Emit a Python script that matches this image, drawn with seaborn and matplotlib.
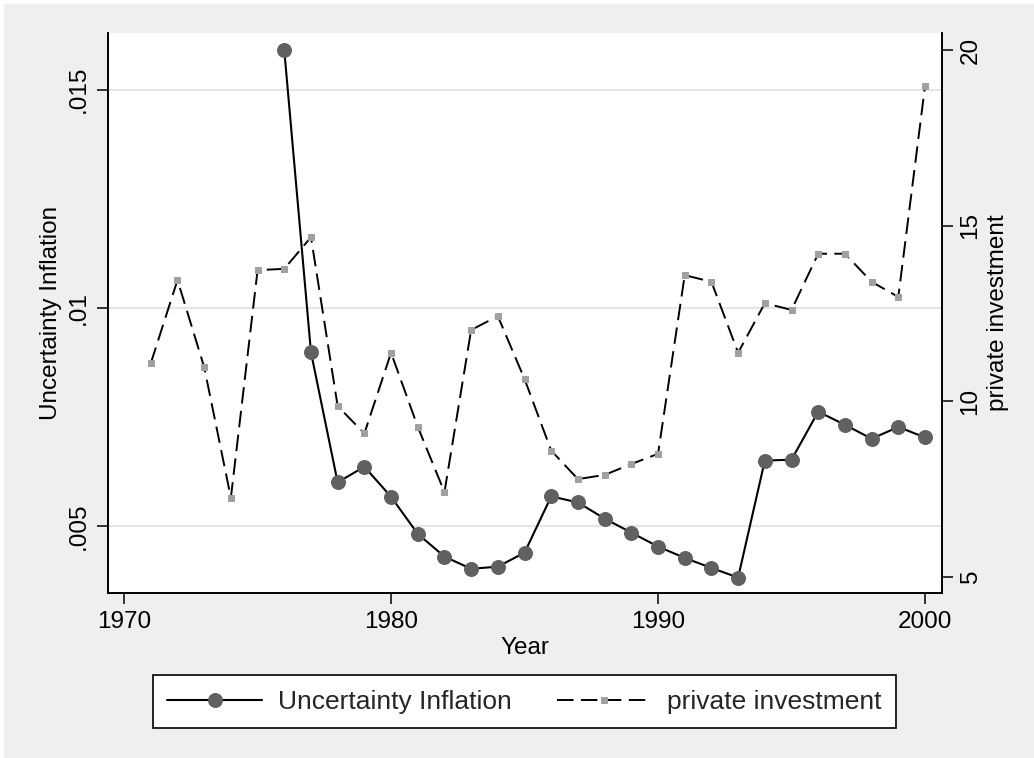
import numpy as np
import pandas as pd
import matplotlib
matplotlib.use("Agg")
import matplotlib.pyplot as plt
import seaborn as sns
from matplotlib.patches import Rectangle

# data
inv_years = list(range(1971, 2001))
investment = [11.08, 13.45, 10.97, 7.25, 13.73, 13.77, 14.67, 9.86, 9.08, 11.38,
              9.27, 7.41, 12.03, 12.42, 10.63, 8.59, 7.78, 7.90, 8.21, 8.50,
              13.59, 13.40, 11.38, 12.79, 12.60, 14.20, 14.20, 13.40, 12.97, 18.97]
unc_years = list(range(1976, 2001))
uncertainty = [.0159, .00898, .00600, .00636, .00567, .00482, .00430, .00402, .00407,
               .00439, .00568, .00554, .00517, .00485, .00453, .00427, .00404, .00382,
               .00650, .00652, .00762, .00732, .00700, .00727, .00703]

x_ticks = [1970, 1980, 1990, 2000]
left_ticks = [.005, .01, .015]
left_labels = [".005", ".01", ".015"]
right_ticks = [5, 10, 15, 20]

df_unc = pd.DataFrame({"year": unc_years, "value": uncertainty})
df_inv = pd.DataFrame({"year": inv_years, "value": investment})

sns.set_theme(style="white")
plt.rcParams['font.family'] = ['Liberation Sans', 'DejaVu Sans']
fs = 17.5

fig = plt.figure(figsize=(10.34, 7.58), dpi=100, facecolor='#efefef')
# thin white margin on the left and top edges
fig.patches.append(Rectangle((0, 0), 4 / 1034, 1, transform=fig.transFigure,
                             facecolor='white', edgecolor='none', zorder=-10))
fig.patches.append(Rectangle((0, 1 - 4 / 758), 1, 4 / 758, transform=fig.transFigure,
                             facecolor='white', edgecolor='none', zorder=-10))

ax = fig.add_axes([0.104, 0.2183, 0.8066, 0.7388])
ax.set_facecolor('white')
ax2 = ax.twinx()

sns.lineplot(data=df_unc, x="year", y="value", ax=ax, color='black', lw=1.5,
             marker='o', markersize=10, markerfacecolor='#606060',
             markeredgecolor='#606060', label='Uncertainty Inflation', legend=False)
sns.lineplot(data=df_inv, x="year", y="value", ax=ax2, color='black', lw=1.4,
             linestyle='--', marker='s', markersize=3.8, markerfacecolor='#a0a0a0',
             markeredgecolor='#a0a0a0', label='private investment', legend=False)
ax2.lines[-1].set_dashes([8.5, 3.8])

ax.set_xlim(1969.38, 2000.62)
ax.set_ylim(0.003477, 0.016306)
ax2.set_ylim(4.55, 20.5)

ax.set_xticks(x_ticks)
ax.set_xticklabels([str(t) for t in x_ticks])
ax.set_yticks(left_ticks)
ax.set_yticklabels(left_labels, rotation=90, va='center')
ax2.set_yticks(right_ticks)
ax2.set_yticklabels([str(t) for t in right_ticks], rotation=90, va='center')

ax.grid(True, axis='y', color='#e6e6e6', lw=1.5)
ax.set_axisbelow(True)

for a in (ax, ax2):
    a.tick_params(direction='out', length=8, width=1.1, labelsize=fs, pad=5,
                  color='black', labelcolor='black')
    for side in ('left', 'bottom', 'right'):
        a.spines[side].set_color('black')
        a.spines[side].set_linewidth(1.2)
    a.spines['top'].set_visible(False)
ax.tick_params(axis='x', bottom=True)
ax.tick_params(axis='y', left=True)
ax2.tick_params(axis='y', right=True)

ax.set_xlabel("Year", fontsize=fs, labelpad=3, color='black')
ax.set_ylabel("Uncertainty Inflation", fontsize=fs, labelpad=4, color='black')
ax2.set_ylabel("private investment", fontsize=fs, labelpad=4, color='black')

handles = [ax.lines[0], ax2.lines[-1]]
leg = fig.legend(handles, ['Uncertainty Inflation', 'private investment'],
                 loc='center', bbox_to_anchor=(0.5073, 0.0739), ncol=2,
                 fontsize=19, frameon=True, fancybox=False, framealpha=1,
                 edgecolor='black', facecolor='white', handlelength=3.6,
                 handletextpad=0.6, columnspacing=1.7, borderpad=0.55)
leg.get_frame().set_linewidth(1.2)

fig.savefig("out.png", dpi=100, facecolor=fig.get_facecolor())
